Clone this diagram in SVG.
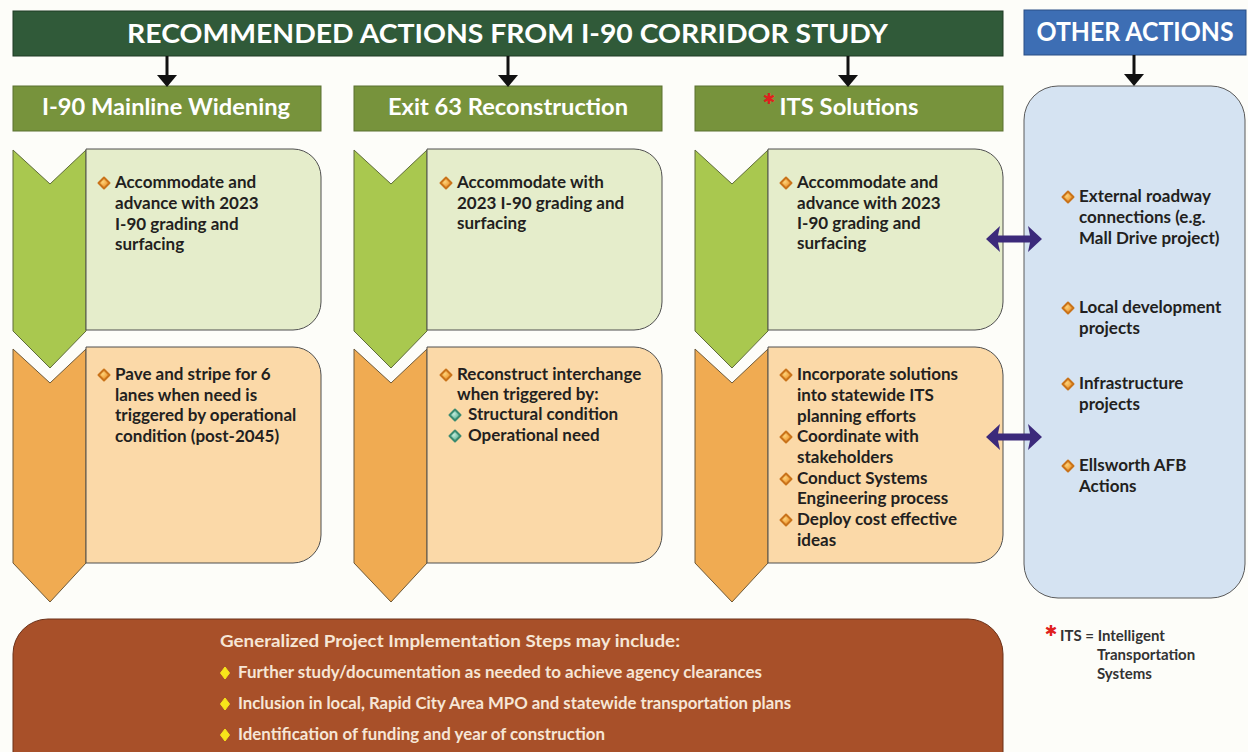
<svg xmlns="http://www.w3.org/2000/svg" xmlns:xlink="http://www.w3.org/1999/xlink" width="1248" height="752" viewBox="0 0 1248 752">
<style>
.t{font-family:Lato,"Open Sans","Liberation Sans",sans-serif;font-weight:700}
.body{font-size:17px;fill:#231f20}
.hd{font-size:22px;fill:#ffffff;text-anchor:middle}
.ttl{font-size:27px;fill:#ffffff}
.br{font-size:17px;fill:#f6e6d6}
.lg{font-size:15px;fill:#333333}
.ast{font-family:"DejaVu Sans",sans-serif;fill:#e0201e;text-anchor:middle}
.top{fill:#305a39;stroke:#1e3a24;stroke-width:1}
.colhd{fill:#77933c;stroke:#5b7030;stroke-width:1}
.gch{fill:#a9c84f;stroke:#5e6b3a;stroke-width:1}
.gbx{fill:#e5edcb;stroke:#4f4f4f;stroke-width:1}
.och{fill:#f0ab52;stroke:#6e5a3a;stroke-width:1}
.obx{fill:#fbd9a8;stroke:#4f4f4f;stroke-width:1}
.blu{fill:#d5e3f2;stroke:#5a5a5a;stroke-width:1}
.arr{stroke:#111;stroke-width:3;fill:none}
.ah{fill:#111}
.dbl{fill:#3c2a7b}
</style>
<defs>
<radialGradient id="og" cx="0.4" cy="0.4" r="0.6"><stop offset="0" stop-color="#fcd27a"/><stop offset="1" stop-color="#ec8a1e"/></radialGradient>
<radialGradient id="tg" cx="0.4" cy="0.4" r="0.6"><stop offset="0" stop-color="#c4ecdc"/><stop offset="1" stop-color="#4aa889"/></radialGradient>
<g id="ob"><path d="M0,-5.5 L5.5,0 L0,5.5 L-5.5,0Z" fill="url(#og)" stroke="#c9731a" stroke-width="2" stroke-linejoin="round"/></g>
<g id="tb"><path d="M0,-5.5 L5.5,0 L0,5.5 L-5.5,0Z" fill="url(#tg)" stroke="#3a8a70" stroke-width="2" stroke-linejoin="round"/></g>
<g id="yb"><path d="M0,-6 L4.5,0 L0,6 L-4.5,0Z" fill="#f7e51a" stroke="#f7e51a" stroke-width="1" stroke-linejoin="round"/></g>
<g id="colshapes">
<polygon class="gch" points="13,150 50,184 86,150 86,331 50,368 13,331"/>
<path class="gbx" d="M86,149 H293 A28,28 0 0 1 321,177 V302 A28,28 0 0 1 293,330 H86 Z"/>
<polygon class="och" points="13,349 50,383 86,349 86,563 50,602 13,563"/>
<path class="obx" d="M86,347 H293 A28,28 0 0 1 321,375 V535 A28,28 0 0 1 293,563 H86 Z"/>
</g>
</defs>
<rect width="1248" height="752" fill="#fdfdf9"/>

<g id="header-main">
<rect class="top" x="13" y="11" width="990" height="45"/>
<text class="t ttl" x="127" y="43" textLength="761" lengthAdjust="spacingAndGlyphs">RECOMMENDED ACTIONS FROM I-90 CORRIDOR STUDY</text>
</g>
<g id="header-other">
<rect x="1024" y="10" width="222" height="45" fill="#3d6eb4" stroke="#2a4f85" stroke-width="1"/>
<text class="t ttl" x="1135" y="41" font-size="25" text-anchor="middle" textLength="197" lengthAdjust="spacingAndGlyphs">OTHER ACTIONS</text>
</g>

<g id="col1-header">
<rect class="colhd" x="13" y="86" width="308" height="45"/>
<text class="t hd" x="166" y="115" textLength="248" lengthAdjust="spacingAndGlyphs">I-90 Mainline Widening</text>
</g>
<g id="col2-header">
<rect class="colhd" x="354" y="86" width="308" height="45"/>
<text class="t hd" x="508" y="115" textLength="240" lengthAdjust="spacingAndGlyphs">Exit 63 Reconstruction</text>
</g>
<g id="col3-header">
<rect class="colhd" x="695" y="86" width="308" height="45"/>
<text class="ast" x="769" y="104" font-size="15">✱</text>
<text class="t hd" x="849" y="115" textLength="139" lengthAdjust="spacingAndGlyphs">ITS Solutions</text>
</g>

<g id="col1-steps">
<use xlink:href="#colshapes"/>
<use xlink:href="#ob" x="104" y="183"/>
<text class="t body"><tspan x="115" y="188">Accommodate and</tspan><tspan x="115" y="209">advance with 2023</tspan><tspan x="115" y="230">I-90 grading and</tspan><tspan x="115" y="250">surfacing</tspan></text>
<use xlink:href="#ob" x="104" y="375"/>
<text class="t body"><tspan x="115" y="380">Pave and stripe for 6</tspan><tspan x="115" y="401">lanes when need is</tspan><tspan x="115" y="421">triggered by operational</tspan><tspan x="115" y="442">condition (post-2045)</tspan></text>
</g>

<g id="col2-steps">
<use xlink:href="#colshapes" transform="translate(341,0)"/>
<use xlink:href="#ob" x="446" y="183"/>
<text class="t body"><tspan x="457" y="188">Accommodate with</tspan><tspan x="457" y="209">2023 I-90 grading and</tspan><tspan x="457" y="229">surfacing</tspan></text>
<use xlink:href="#ob" x="446" y="375"/>
<text class="t body"><tspan x="457" y="380">Reconstruct interchange</tspan><tspan x="457" y="400">when triggered by:</tspan></text>
<use xlink:href="#tb" x="455" y="415"/>
<use xlink:href="#tb" x="455" y="436"/>
<text class="t body"><tspan x="468" y="420">Structural condition</tspan><tspan x="468" y="441">Operational need</tspan></text>
</g>

<g id="col3-steps">
<use xlink:href="#colshapes" transform="translate(682,0)"/>
<use xlink:href="#ob" x="786" y="183"/>
<text class="t body"><tspan x="797" y="188">Accommodate and</tspan><tspan x="797" y="209">advance with 2023</tspan><tspan x="797" y="229">I-90 grading and</tspan><tspan x="797" y="249">surfacing</tspan></text>
<use xlink:href="#ob" x="786" y="375"/>
<use xlink:href="#ob" x="786" y="437"/>
<use xlink:href="#ob" x="786" y="479"/>
<use xlink:href="#ob" x="786" y="520"/>
<text class="t body"><tspan x="797" y="380">Incorporate solutions</tspan><tspan x="797" y="401">into statewide ITS</tspan><tspan x="797" y="422">planning efforts</tspan><tspan x="797" y="442">Coordinate with</tspan><tspan x="797" y="463">stakeholders</tspan><tspan x="797" y="484">Conduct Systems</tspan><tspan x="797" y="504">Engineering process</tspan><tspan x="797" y="525">Deploy cost effective</tspan><tspan x="797" y="546">ideas</tspan></text>
</g>

<g id="other-actions">
<rect class="blu" x="1024" y="86" width="221" height="512" rx="34" ry="34"/>
<use xlink:href="#ob" x="1068" y="197"/>
<use xlink:href="#ob" x="1068" y="308"/>
<use xlink:href="#ob" x="1068" y="384"/>
<use xlink:href="#ob" x="1068" y="466"/>
<text class="t body"><tspan x="1079" y="202">External roadway</tspan><tspan x="1079" y="223">connections (e.g.</tspan><tspan x="1079" y="244">Mall Drive project)</tspan><tspan x="1079" y="313">Local development</tspan><tspan x="1079" y="334">projects</tspan><tspan x="1079" y="389">Infrastructure</tspan><tspan x="1079" y="410">projects</tspan><tspan x="1079" y="471">Ellsworth AFB</tspan><tspan x="1079" y="492">Actions</tspan></text>
</g>

<g id="implementation-steps">
<path d="M13,753 V654 A35,35 0 0 1 48,619 H968 A35,35 0 0 1 1003,654 V753 Z" fill="#a85029" stroke="#6b3018" stroke-width="1"/>
<text class="t br" x="220" y="647" textLength="460" lengthAdjust="spacingAndGlyphs">Generalized Project Implementation Steps may include:</text>
<use xlink:href="#yb" x="225" y="673"/>
<use xlink:href="#yb" x="225" y="704"/>
<use xlink:href="#yb" x="225" y="735"/>
<text class="t br" x="238" y="678" textLength="524" lengthAdjust="spacingAndGlyphs">Further study/documentation as needed to achieve agency clearances</text>
<text class="t br" x="238" y="709" textLength="553" lengthAdjust="spacingAndGlyphs">Inclusion in local, Rapid City Area MPO and statewide transportation plans</text>
<text class="t br" x="238" y="740" textLength="367" lengthAdjust="spacingAndGlyphs">Identification of funding and year of construction</text>
</g>

<g id="legend">
<text class="ast" x="1051" y="636" font-size="15">✱</text>
<text class="t lg"><tspan x="1060" y="641">ITS = Intelligent</tspan><tspan x="1097" y="660">Transportation</tspan><tspan x="1097" y="679">Systems</tspan></text>
</g>

<g id="connectors">
<line class="arr" x1="167" y1="56" x2="167" y2="76"/>
<polygon class="ah" points="157,75 177,75 167,87"/>
<line class="arr" x1="508" y1="56" x2="508" y2="76"/>
<polygon class="ah" points="498,75 518,75 508,87"/>
<line class="arr" x1="848" y1="56" x2="848" y2="76"/>
<polygon class="ah" points="838,75 858,75 848,87"/>
<line class="arr" x1="1134" y1="55" x2="1134" y2="75"/>
<polygon class="ah" points="1124,74 1144,74 1134,86"/>
<path class="dbl" d="M986,239 L1000,226 L998,235.5 L1030,235.5 L1028,226 L1042,239 L1028,252 L1030,242.5 L998,242.5 L1000,252 Z"/>
<path class="dbl" d="M986,437 L1000,424 L998,433.5 L1030,433.5 L1028,424 L1042,437 L1028,450 L1030,440.5 L998,440.5 L1000,450 Z"/>
</g>
</svg>
